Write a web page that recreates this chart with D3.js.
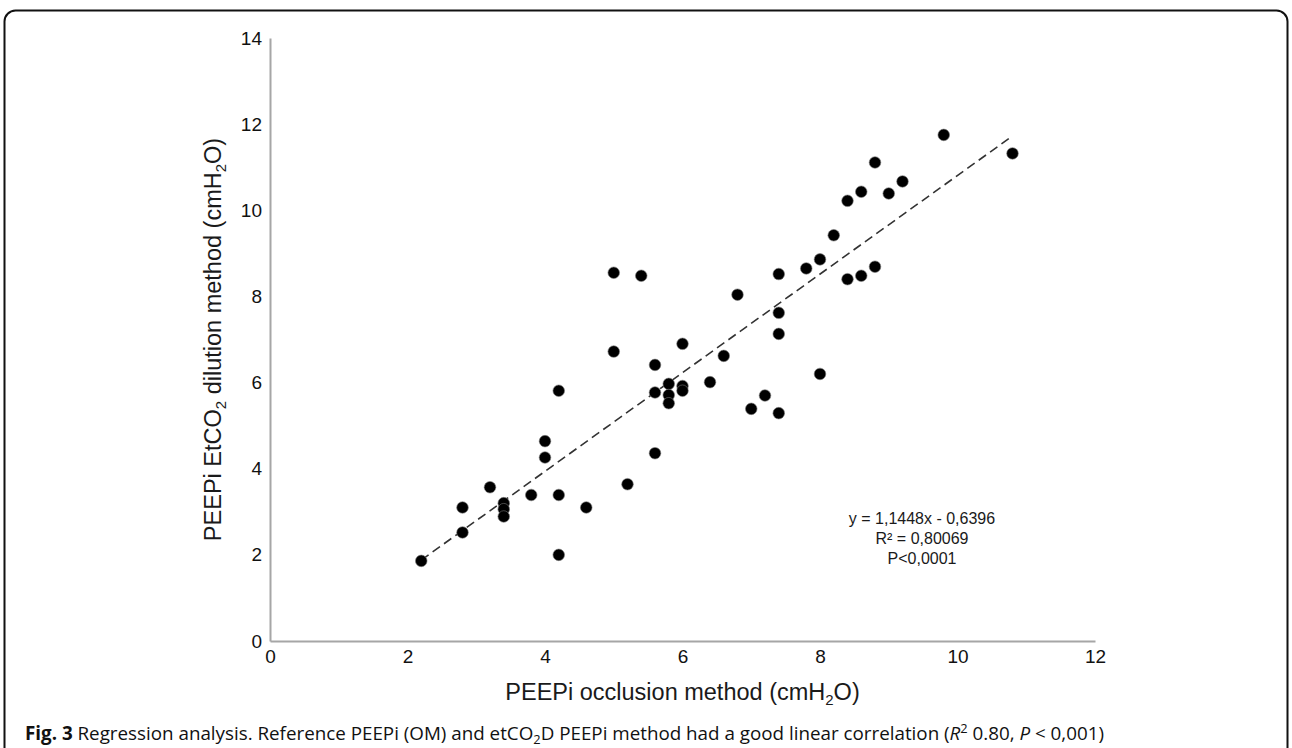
<!DOCTYPE html>
<html>
<head>
<meta charset="utf-8">
<script src="https://cdn.jsdelivr.net/npm/d3@7"></script>
<style>
    html, body { margin: 0; padding: 0; background: #fff; }
    svg { display: block; }
</style>
</head>
<body>
<div id="graph"></div>
<script>
!(function(){
    "use strict"

    // PEEPi occlusion method (x) vs PEEPi EtCO2 dilution method (y)
    var occlusion = [2.2, 2.8, 2.8, 3.2, 3.4, 3.4, 3.4, 3.8, 4.0, 4.0,
                     4.2, 4.2, 4.2, 4.6, 5.0, 5.0, 5.2, 5.4, 5.6, 5.6,
                     5.6, 5.8, 5.8, 5.8, 6.0, 6.0, 6.0, 6.4, 6.6, 6.8,
                     7.0, 7.2, 7.4, 7.4, 7.4, 7.4, 7.8, 8.0, 8.0, 8.2,
                     8.4, 8.4, 8.6, 8.6, 8.8, 8.8, 9.0, 9.2, 9.8, 10.8];
    var dilution  = [1.86, 3.10, 2.52, 3.57, 3.20, 3.06, 2.89, 3.39, 4.64, 4.26,
                     5.81, 3.39, 2.00, 3.10, 6.72, 8.55, 3.64, 8.48, 6.41, 5.77,
                     4.36, 5.97, 5.71, 5.52, 6.90, 5.92, 5.81, 6.01, 6.62, 8.04,
                     5.39, 5.70, 8.52, 7.62, 7.13, 5.29, 8.65, 8.86, 6.20, 9.42,
                     10.22, 8.40, 10.43, 8.48, 11.11, 8.69, 10.39, 10.67, 11.75, 11.32];

    var xTicks = [0, 2, 4, 6, 8, 10, 12];
    var yTicks = [0, 2, 4, 6, 8, 10, 12, 14];

    var slope = 1.1448;
    var intercept = -0.6396;
    var fitLines = ["y = 1,1448x - 0,6396", "R\u00b2 = 0,80069", "P<0,0001"];

    var width = 1292;
    var height = 748;
    var font = "'Liberation Sans', Arial, sans-serif";

    var points = occlusion.map(function(x, i) { return { x: x, y: dilution[i] }; });

    var svg = d3.select("#graph")
        .append("svg")
        .attr("width", width)
        .attr("height", height);

    // figure frame, open at the bottom (runs off the page)
    svg.append("rect")
        .attr("x", 4.5)
        .attr("y", 10.5)
        .attr("width", 1283)
        .attr("height", 800)
        .attr("rx", 11)
        .attr("fill", "none")
        .attr("stroke", "#111")
        .attr("stroke-width", 2);

    var x = d3.scaleLinear().domain([0, 12]).range([270, 1095]);
    var y = d3.scaleLinear().domain([0, 14]).range([641, 38]);

    // axes: plain grey lines, no ticks
    var xAxis = svg.append("g")
        .attr("transform", "translate(0," + y(0) + ")")
        .call(d3.axisBottom(x).tickValues(xTicks).tickSize(0).tickPadding(9));
    var yAxis = svg.append("g")
        .attr("transform", "translate(" + x(0) + ",0)")
        .call(d3.axisLeft(y).tickValues(yTicks).tickSize(0).tickPadding(8));

    [xAxis, yAxis].forEach(function(g) {
        g.attr("font-family", font).attr("font-size", 19);
        g.select(".domain").attr("stroke", "#a6a6a6").attr("stroke-width", 2);
        g.selectAll("text")
            .attr("fill", "#111")
            .style("font-family", font)
            .style("font-size", "19px");
    });

    // trendline over the range of the data
    var xExt = d3.extent(occlusion);
    svg.append("line")
        .attr("x1", x(xExt[0]))
        .attr("y1", y(slope * xExt[0] + intercept))
        .attr("x2", x(xExt[1]))
        .attr("y2", y(slope * xExt[1] + intercept))
        .attr("stroke", "#333")
        .attr("stroke-width", 1.6)
        .attr("stroke-dasharray", "9,5");

    svg.append("g")
        .selectAll("circle")
        .data(points)
        .enter()
        .append("circle")
        .attr("cx", function(d) { return x(d.x); })
        .attr("cy", function(d) { return y(d.y); })
        .attr("r", 5.8)
        .attr("fill", "#000")
        .attr("stroke", "#777")
        .attr("stroke-width", 0.6);

    // regression label
    svg.append("g")
        .selectAll("text")
        .data(fitLines)
        .enter()
        .append("text")
        .attr("x", 922)
        .attr("y", function(d, i) { return 524 + i * 20; })
        .attr("text-anchor", "middle")
        .attr("fill", "#1a1a1a")
        .style("font-family", font)
        .style("font-size", "16px")
        .text(function(d) { return d; });

    // axis titles with subscripts; the part after a subscript shifts back up
    function subTitle(sel, parts) {
        var shift = 0;
        parts.forEach(function(p) {
            var t = sel.append("tspan").text(p.t);
            if (p.sub) {
                t.attr("dy", 5).style("font-size", "15px");
                shift = -5;
            } else if (shift) {
                t.attr("dy", shift);
                shift = 0;
            }
        });
    }

    var xTitle = svg.append("text")
        .attr("x", (x(0) + x(12)) / 2)
        .attr("y", 700)
        .attr("text-anchor", "middle")
        .attr("fill", "#1a1a1a")
        .style("font-family", font)
        .style("font-size", "23.5px");
    subTitle(xTitle, [{t: "PEEPi occlusion method (cmH"}, {t: "2", sub: true}, {t: "O)"}]);

    var yTitle = svg.append("text")
        .attr("transform", "translate(221," + (y(0) + y(14)) / 2 + ") rotate(-90)")
        .attr("text-anchor", "middle")
        .attr("fill", "#1a1a1a")
        .style("font-family", font)
        .style("font-size", "23.5px");
    subTitle(yTitle, [{t: "PEEPi EtCO"}, {t: "2", sub: true}, {t: " dilution method (cmH"}, {t: "2", sub: true}, {t: "O)"}]);

    // caption
    var cap = svg.append("text")
        .attr("x", 25)
        .attr("y", 740)
        .attr("fill", "#111")
        .attr("textLength", 1079)
        .attr("lengthAdjust", "spacingAndGlyphs")
        .style("font-family", "'Liberation Sans Narrow', 'Open Sans', sans-serif")
        .style("font-size", "19px");
    cap.append("tspan").style("font-weight", "bold").text("Fig. 3");
    cap.append("tspan").text(" Regression analysis. Reference PEEPi (OM) and etCO");
    cap.append("tspan").attr("dy", 4).style("font-size", "13px").text("2");
    cap.append("tspan").attr("dy", -4).text("D PEEPi method had a good linear correlation (");
    cap.append("tspan").style("font-style", "italic").text("R");
    cap.append("tspan").attr("dy", -7).style("font-size", "13px").text("2");
    cap.append("tspan").attr("dy", 7).text(" 0.80, ");
    cap.append("tspan").style("font-style", "italic").text("P");
    cap.append("tspan").text(" < 0,001)");

}());
</script>
</body>
</html>
